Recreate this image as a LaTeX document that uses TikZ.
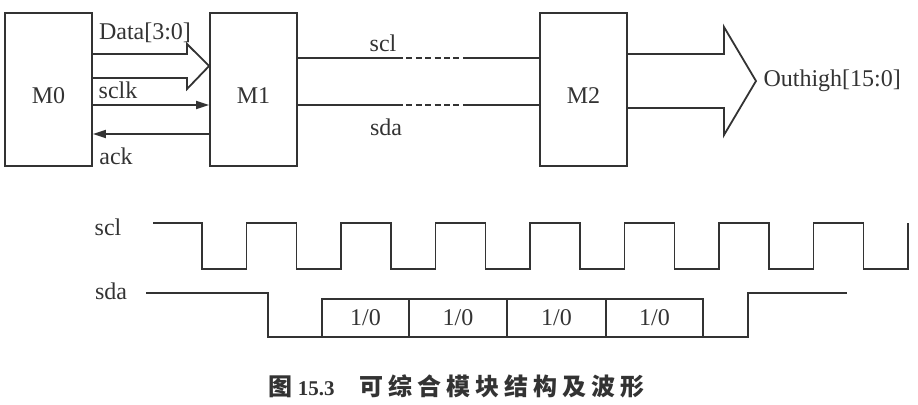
\documentclass[tikz,border=0pt]{standalone}
\usepackage{fontspec}
\setmainfont{Liberation Serif}
\newfontfamily\cjk{Noto Sans CJK SC}
\newcommand\cs{\hspace{2.5pt}}
\usetikzlibrary{arrows.meta,positioning}

\begin{document}
\begin{tikzpicture}[x=0.5pt, y=-0.5pt, line width=0.9pt, color=black!80,
    font=\fontsize{12}{14}\selectfont,
    block/.style={draw, minimum width=43.5pt, minimum height=76.5pt, inner sep=0pt},
    sigtip/.style={-{Triangle[length=6.5pt,width=4pt]}},
    gap/.style={dash pattern=on 3pt off 1.7pt}]
\useasboundingbox (0,0) rectangle (918,404);

% Modules
\node[block, label={[yshift=-3pt]center:M0}] (M0) at (48.5,89.5) {};
\node[block, label={[yshift=-3pt]center:M1}] (M1) at (253.5,89.5) {};
\node[block, label={[yshift=-3pt]center:M2}] (M2) at (583.5,89.5) {};

% M0 -> M1
\draw (M0.east |- 0,54) -- (187,54) -- (187,44) -- (M1.west |- 0,66)
    -- (187,89) -- (187,78) -- (M0.east |- 0,78);
\node (data) at (145,33) {Data[3:0]};
\draw[sigtip] (M0.east |- 0,105) -- (M1.west |- 0,105);
\node (sclk) at (118,90) {sclk};
\draw[sigtip] (M1.west |- 0,134) -- (M0.east |- 0,134);
\node (ack) at (116,156) {ack};

% M1 -> M2
\draw (M1.east |- 0,58) -- (397,58);
\draw[gap] (397,58) -- (463,58);
\draw (463,58) -- (M2.west |- 0,58);
\node (scl) at (383,43) {scl};
\draw (M1.east |- 0,105) -- (397,105);
\draw[gap] (397,105) -- (463,105);
\draw (463,105) -- (M2.west |- 0,105);
\node (sda) at (386,127) {sda};

% Output bus
\node[right] (out) at (756,81) {Outhigh[15:0]};
\draw (M2.east |- 0,54) -- (724,54) -- (724,27) -- (out.west)
    -- (724,135) -- (724,108) -- (M2.east |- 0,108);

% Waveforms
\node (scllbl) at (108,227) {scl};
\draw (153,223) foreach \k in {0,...,7} {
    -- ({202+94.5*\k},223) -- ({202+94.5*\k},269)
    -- ({246.5+94.5*\k},269) -- ({246.5+94.5*\k},223) };
\node (sdalbl) at (111,291) {sda};
\draw (146,293) -- (268,293) -- (268,337) -- (748,337) -- (748,293) -- (847,293);
\foreach \a/\b [count=\i] in {322/409, 409/507, 507/606, 606/703}
    \draw (\a,299) rectangle (\b,337) node[pos=.5] (bit\i) {1/0};

% Caption
\node[anchor=west, inner sep=0pt] (cap) at (268,386) {\fontsize{12}{14}\selectfont
    {\cjk\bfseries 图}\hspace{2.5pt}{\fontsize{10.5}{12}\selectfont\bfseries 15.3}\hspace{12.5pt}%
    {\cjk\bfseries 可\cs 综\cs 合\cs 模\cs 块\cs 结\cs 构\cs 及\cs 波\cs 形}};
\end{tikzpicture}
\end{document}
